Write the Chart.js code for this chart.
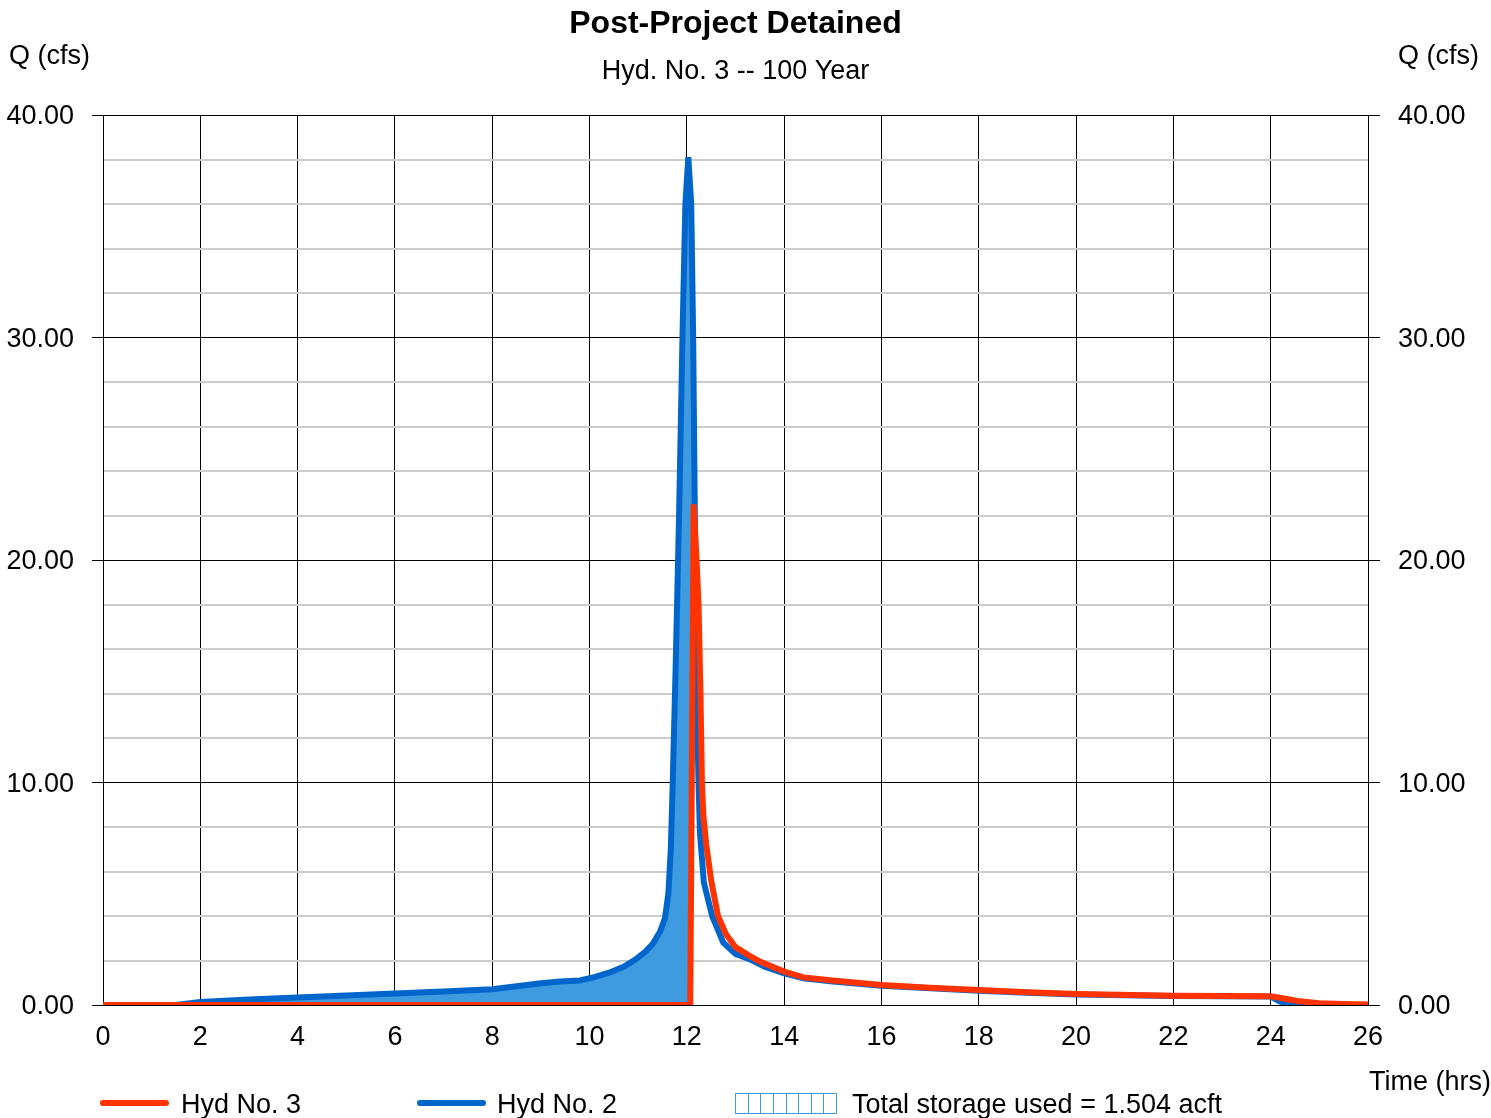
<!DOCTYPE html>
<html>
<head>
<meta charset="utf-8">
<script src="https://cdn.jsdelivr.net/npm/chart.js@4"></script>
<style>
  body { margin: 0; background: #fff; }
  #box { width: 1491px; height: 1118px; position: relative; }
</style>
</head>
<body>
<div id="box"><canvas id="grafico"></canvas></div>
<script>
// Hyd No. 2 (inflow)
const tempoHyd2 = [0, 1.5, 2, 3, 4, 5, 6, 7, 8, 8.5, 9, 9.4, 9.8, 10.1, 10.4, 10.7, 10.95, 11.15, 11.3, 11.45, 11.55,
  11.62, 11.67, 11.71, 11.77, 11.84, 11.91, 11.97, 12.03, 12.09, 12.13, 12.16, 12.19, 12.24, 12.27, 12.35, 12.52,
  12.75, 13.0, 13.3, 13.6, 14.0, 14.4, 15, 16, 17, 18, 19, 20, 22, 24, 24.2, 24.4, 26];
const vazaoHyd2 = [0, 0, 0.13, 0.25, 0.34, 0.43, 0.52, 0.61, 0.71, 0.84, 0.98, 1.06, 1.1, 1.25, 1.45, 1.72, 2.05, 2.4, 2.75, 3.3, 3.9,
  5.0, 7.0, 10, 15.2, 22, 30, 36, 38.1, 36, 30, 23, 15.2, 10, 7.7, 5.5, 4.0,
  2.8, 2.3, 2.05, 1.72, 1.42, 1.2, 1.05, 0.86, 0.75, 0.64, 0.55, 0.47, 0.41, 0.38, 0.15, 0.01, 0];

// Hyd No. 3 (outflow)
const tempoHyd3 = [0, 12.07, 12.14, 12.2, 12.24, 12.28, 12.31, 12.34, 12.4, 12.5, 12.64, 12.8, 12.9, 13.0, 13.3, 13.5, 14.0,
  14.4, 15, 16, 17, 18, 19, 20, 22, 24, 24.3, 24.55, 25, 25.5, 26];
const vazaoHyd3 = [0, 0, 22.5, 20, 18, 14, 10, 8.5, 7.2, 5.6, 4.0, 3.2, 2.9, 2.6, 2.2, 1.95, 1.5,
  1.24, 1.1, 0.9, 0.78, 0.67, 0.57, 0.49, 0.42, 0.39, 0.28, 0.18, 0.08, 0.04, 0.02];

const titulo = 'Post-Project Detained';
const subtitulo = 'Hyd. No. 3 -- 100 Year';
const legendas = ['Hyd No. 3', 'Hyd No. 2', 'Total storage used = 1.504 acft'];

const vermelho = '#ff3300';
const azul = '#0066cc';
const azulClaro = '#3f9bdf';
const fonte = '"Liberation Sans", Arial, sans-serif';

Chart.defaults.font.family = fonte;
Chart.defaults.color = '#000';

const pontos = (xs, ys) => xs.map((x, i) => ({ x: x, y: ys[i] }));
const ehMaior = v => Math.abs(v % 10) < 1e-9;

const textos = {
  id: 'textos',
  afterDraw(chart) {
    const ctx = chart.ctx;
    ctx.save();
    ctx.fillStyle = '#000';
    ctx.textBaseline = 'middle';
    ctx.textAlign = 'center';
    ctx.font = 'bold 32px ' + fonte;
    ctx.fillText(titulo, 735.5, 24);
    ctx.font = '27px ' + fonte;
    ctx.fillText(subtitulo, 735.5, 72);
    ctx.textAlign = 'left';
    ctx.fillText('Q (cfs)', 9, 57);
    ctx.fillText('Q (cfs)', 1398, 57);
    ctx.fillText('Time (hrs)', 1369, 1083);

    // legenda
    ctx.lineWidth = 6;
    ctx.lineCap = 'round';
    ctx.strokeStyle = vermelho;
    ctx.beginPath(); ctx.moveTo(103, 1103); ctx.lineTo(166, 1103); ctx.stroke();
    ctx.strokeStyle = azul;
    ctx.beginPath(); ctx.moveTo(420, 1103); ctx.lineTo(483, 1103); ctx.stroke();
    ctx.fillText(legendas[0], 181, 1106);
    ctx.fillText(legendas[1], 497, 1106);
    ctx.fillText(legendas[2], 852, 1106);

    ctx.lineWidth = 1;
    ctx.lineCap = 'butt';
    ctx.strokeStyle = azulClaro;
    ctx.strokeRect(735.5, 1093.5, 101, 20);
    for (let i = 1; i < 8; i++) {
      const x = Math.round(735 + i * 101 / 8) + 0.5;
      ctx.beginPath(); ctx.moveTo(x, 1094); ctx.lineTo(x, 1113); ctx.stroke();
    }
    ctx.restore();
  }
};

const ctx = document.getElementById('grafico').getContext('2d');
const grafico = new Chart(ctx, {
  type: 'line',
  data: {
    datasets: [{
      label: legendas[0],
      data: pontos(tempoHyd3, vazaoHyd3),
      borderColor: vermelho,
      borderWidth: 6,
      pointRadius: 0,
      tension: 0,
      fill: false
    }, {
      label: legendas[1],
      data: pontos(tempoHyd2, vazaoHyd2),
      borderColor: azul,
      borderWidth: 6,
      pointRadius: 0,
      tension: 0,
      fill: { target: 0, above: azulClaro, below: 'rgba(0,0,0,0)' }
    }]
  },
  options: {
    responsive: true,
    maintainAspectRatio: false,
    animation: false,
    layout: { padding: { top: 115, left: 0, right: 0, bottom: 0 } },
    plugins: { legend: { display: false }, tooltip: { enabled: false } },
    scales: {
      x: {
        type: 'linear',
        min: 0,
        max: 26,
        afterFit: s => { s.height = 113; },
        ticks: { stepSize: 2, font: { size: 27 }, padding: 16, color: '#000' },
        grid: { color: '#000', lineWidth: 1, drawTicks: false },
        border: { color: '#000' }
      },
      y: {
        min: 0,
        max: 40,
        afterFit: s => { s.width = 103; },
        ticks: {
          stepSize: 2,
          font: { size: 27 },
          padding: 18,
          labelOffset: 2,
          color: '#000',
          callback: v => ehMaior(v) ? v.toFixed(2) : ''
        },
        grid: {
          color: c => ehMaior(c.tick.value) ? '#000' : '#cccccc',
          lineWidth: c => ehMaior(c.tick.value) ? 1 : 2,
          tickColor: c => ehMaior(c.tick.value) ? '#000' : 'rgba(0,0,0,0)',
          tickLength: 11
        },
        border: { color: '#000' }
      },
      y2: {
        position: 'right',
        min: 0,
        max: 40,
        afterFit: s => { s.width = 123; },
        ticks: {
          stepSize: 2,
          font: { size: 27 },
          padding: 18,
          labelOffset: 2,
          color: '#000',
          callback: v => ehMaior(v) ? v.toFixed(2) : ''
        },
        grid: {
          drawOnChartArea: false,
          tickColor: c => ehMaior(c.tick.value) ? '#000' : 'rgba(0,0,0,0)',
          tickLength: 12
        },
        border: { color: '#000' }
      }
    }
  },
  plugins: [textos]
});
</script>
</body>
</html>
